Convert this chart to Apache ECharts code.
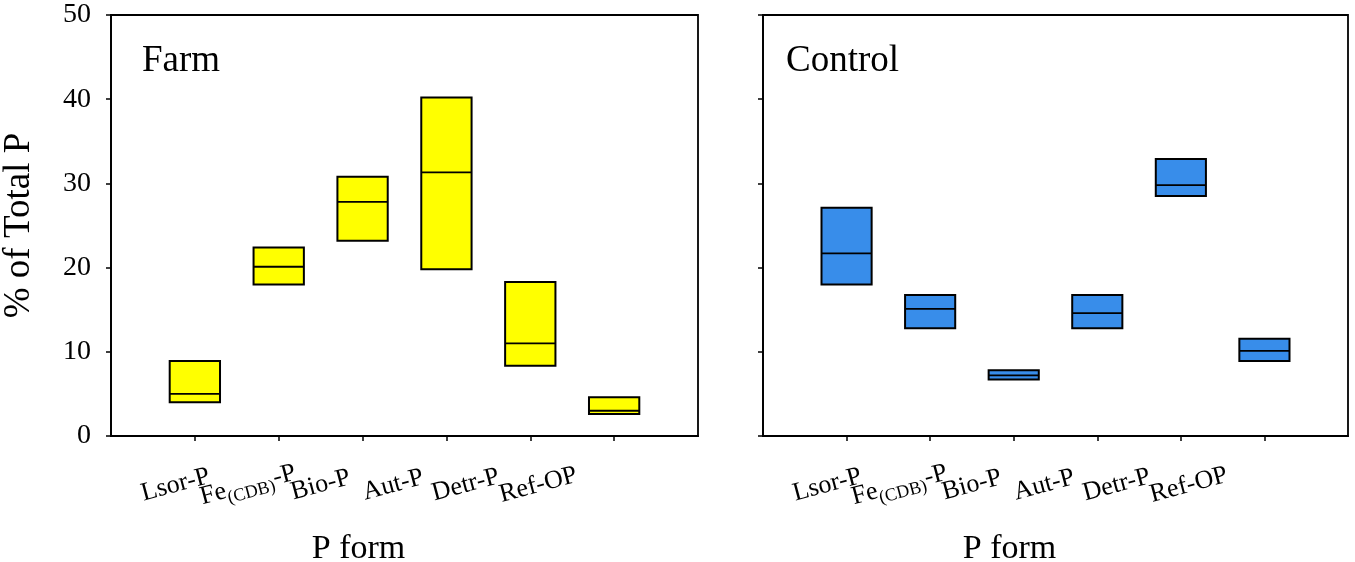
<!DOCTYPE html>
<html>
<head>
<meta charset="UTF-8">
<title>P forms - Farm vs Control</title>
<script src="https://cdn.jsdelivr.net/npm/echarts@6.0.0/dist/echarts.min.js"></script>
<style>
    html, body { margin: 0; padding: 0; background: #fff; }
    #chart { width: 1355px; height: 562px; }
</style>
</head>
<body>
<div id="chart"></div>
<script>
    // categories and box values (% of total P)
    const categories = ['Lsor-P', 'Fe(CDB)-P', 'Bio-P', 'Aut-P', 'Detr-P', 'Ref-OP'];
    const positions = [1, 2, 3, 4, 5, 6];
    const yTicks = [0, 10, 20, 30, 40, 50];

    const farmLow = [4.0, 18.0, 23.2, 19.8, 8.35, 2.6];
    const farmMedian = [5.0, 20.1, 27.8, 31.3, 11.0, 3.0];
    const farmHigh = [8.9, 22.4, 30.8, 40.2, 18.3, 4.6];

    const controlLow = [18.0, 12.8, 6.7, 12.8, 28.5, 8.9];
    const controlMedian = [21.7, 15.1, 7.2, 14.6, 29.8, 10.1];
    const controlHigh = [27.1, 16.75, 7.8, 16.75, 32.9, 11.55];

    const serif = 'Liberation Serif';
    const boxHalf = 0.3;

    const chart = echarts.init(document.getElementById('chart'));

    function boxData(low, med, high) {
        return positions.map((p, i) => [p, low[i], med[i], high[i]]);
    }

    function renderBox(params, api) {
        const x = api.value(0);
        const lo = api.coord([x - boxHalf, api.value(1)]);
        const hi = api.coord([x + boxHalf, api.value(3)]);
        const mL = api.coord([x - boxHalf, api.value(2)]);
        const mR = api.coord([x + boxHalf, api.value(2)]);
        const color = api.visual('color');
        return {
            type: 'group',
            children: [{
                type: 'rect',
                shape: { x: lo[0], y: hi[1], width: hi[0] - lo[0], height: lo[1] - hi[1] },
                style: { fill: color, stroke: '#000', lineWidth: 2 }
            }, {
                type: 'line',
                shape: { x1: mL[0], y1: mL[1], x2: mR[0], y2: mR[1] },
                style: { stroke: '#000', lineWidth: 1.8 }
            }]
        };
    }

    function labelText(value) {
        const i = Math.round(value) - 1;
        if (i === 1) return '{n|Fe}{s|(CDB)}{n|-P}';
        return '{n|' + categories[i] + '}';
    }

    const labelRich = {
        n: { fontFamily: serif, fontSize: 26, color: '#000', lineHeight: 34 },
        s: { fontFamily: serif, fontSize: 18, color: '#000', verticalAlign: 'bottom' }
    };

    function mainX(gridIndex) {
        return {
            type: 'value', gridIndex: gridIndex, min: 0, max: 7, position: 'bottom',
            splitLine: { show: false },
            axisLine: { onZero: false, lineStyle: { color: '#000', width: 1.8 } },
            axisTick: { customValues: positions, length: 5, lineStyle: { color: '#000', width: 1.5 } },
            axisLabel: { show: false },
            name: 'P form', nameLocation: 'middle', nameGap: 96,
            nameTextStyle: { fontFamily: serif, fontSize: 34, color: '#000', padding: [0, 92, 0, 0] }
        };
    }

    // labels sit on their own axes (odd / even positions) so rotated neighbours are never dropped
    function labelX(gridIndex, values) {
        return {
            type: 'value', gridIndex: gridIndex, min: 0.11, max: 8.2, position: 'bottom',
            splitLine: { show: false },
            axisLine: { show: false },
            axisTick: { show: false },
            axisLabel: {
                customValues: values, rotate: 15, margin: 49, interval: 0,
                showMinLabel: true, showMaxLabel: true, hideOverlap: false,
                align: 'center', verticalAlign: 'middle',
                formatter: labelText, rich: labelRich
            }
        };
    }

    function yAxis(gridIndex, showLabels) {
        return {
            type: 'value', gridIndex: gridIndex, min: 0, max: 50, interval: 10,
            splitLine: { show: false },
            axisLine: { show: true, lineStyle: { color: '#000', width: 1.8 } },
            axisTick: { show: true, length: 5, lineStyle: { color: '#000', width: 1.5 } },
            axisLabel: {
                show: showLabels, margin: 20, fontFamily: serif, fontSize: 28, color: '#000',
                customValues: yTicks
            },
            name: showLabels ? '% of Total P' : '',
            nameLocation: 'middle', nameGap: 73,
            nameTextStyle: { fontFamily: serif, fontSize: 37, color: '#000' }
        };
    }

    const oddPos = positions.filter(p => p % 2 === 1);
    const evenPos = positions.filter(p => p % 2 === 0);

    const option = {
        backgroundColor: '#fff',
        animation: false,
        title: [
            { text: 'Farm', left: 142, top: 43, padding: 0,
              textStyle: { fontFamily: serif, fontSize: 37, fontWeight: 'normal', color: '#000' } },
            { text: 'Control', left: 786, top: 43, padding: 0,
              textStyle: { fontFamily: serif, fontSize: 37, fontWeight: 'normal', color: '#000' } }
        ],
        grid: [
            { left: 111, right: 657, top: 15, bottom: 126, containLabel: false, outerBoundsMode: 'none',
              show: true, borderColor: '#000', borderWidth: 1.8 },
            { left: 763, right: 7, top: 15, bottom: 126, containLabel: false, outerBoundsMode: 'none',
              show: true, borderColor: '#000', borderWidth: 1.8 }
        ],
        xAxis: [
            mainX(0), labelX(0, oddPos), labelX(0, evenPos),
            mainX(1), labelX(1, oddPos), labelX(1, evenPos)
        ],
        yAxis: [yAxis(0, true), yAxis(1, false)],
        series: [{
            name: 'Farm', type: 'custom', xAxisIndex: 0, yAxisIndex: 0,
            itemStyle: { color: '#FFFF00' },
            renderItem: renderBox,
            data: boxData(farmLow, farmMedian, farmHigh)
        }, {
            name: 'Control', type: 'custom', xAxisIndex: 3, yAxisIndex: 1,
            itemStyle: { color: '#388DEA' },
            renderItem: renderBox,
            data: boxData(controlLow, controlMedian, controlHigh)
        }]
    };

    chart.setOption(option);
</script>
</body>
</html>
